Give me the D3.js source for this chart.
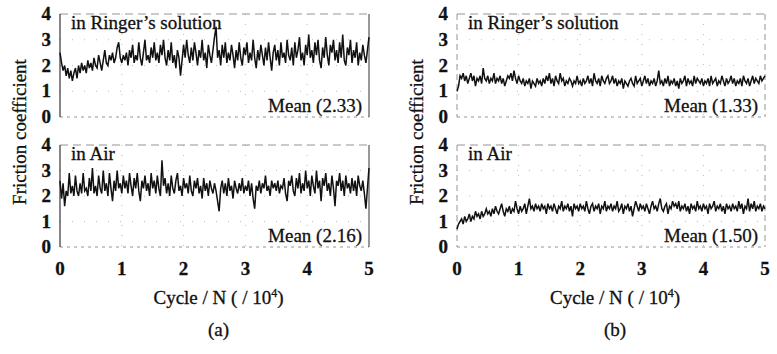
<!DOCTYPE html>
<html>
<head>
<meta charset="utf-8">
<script src="https://cdn.jsdelivr.net/npm/d3@7.9.0/dist/d3.min.js"></script>
<style>
  body { margin: 0; background: #fff; }
</style>
</head>
<body>
<svg id="chart" width="777" height="354"></svg>
<script>
// tick labels
const xTicks = [0, 1, 2, 3, 4, 5];
const yTicks = [0, 1, 2, 3, 4];
const cycleMax = 5;

const ringerA = [
  2.5, 2.1, 1.8, 2.0, 1.6, 1.9, 1.5, 1.8, 1.4, 1.7, 1.9, 1.5, 2.0, 1.7, 2.1, 1.8, 2.0, 1.7, 2.2, 1.9, 2.1,
  1.8, 2.3, 2.0, 1.9, 2.4, 2.1, 1.8, 2.2, 2.6, 2.1, 2.0, 2.4, 2.2, 2.5, 2.1, 2.3, 2.7, 2.9, 2.3, 2.1,
  2.4, 2.2, 2.5, 2.0, 2.6, 2.3, 2.8, 2.1, 2.4, 2.2, 2.9, 2.3, 2.0, 2.5, 3.0, 2.2, 2.4, 2.1, 2.7, 2.3,
  2.9, 2.2, 2.5, 2.1, 2.8, 2.4, 3.0, 2.3, 2.0, 2.6, 2.2, 2.9, 2.1, 2.4, 1.9, 2.6, 2.3, 1.6, 2.2, 2.8,
  2.3, 3.0, 2.4, 2.1, 2.7, 2.2, 2.9, 2.5, 2.0, 2.6, 2.3, 3.0, 2.2, 2.5, 1.9, 2.8, 2.4, 2.1, 2.6, 3.1,
  3.5, 2.3, 2.6, 2.0, 2.8, 2.3, 2.9, 2.1, 2.5, 2.2, 2.8, 2.4, 1.9, 2.6, 2.2, 2.9, 2.3, 2.0, 2.7, 2.4,
  2.9, 2.1, 2.5, 2.2, 3.0, 2.3, 1.9, 2.6, 2.2, 2.8, 2.4, 2.0, 2.7, 2.2, 2.9, 2.3, 1.8, 2.5, 2.8, 2.2,
  2.6, 2.0, 2.9, 2.3, 2.5, 2.1, 3.0, 2.4, 2.2, 2.7, 2.0, 2.9, 2.3, 2.6, 3.1, 2.2, 2.5, 2.0, 2.8, 2.4,
  3.2, 2.3, 2.6, 2.1, 2.9, 2.4, 3.0, 2.2, 1.9, 2.7, 2.3, 3.1, 2.4, 2.0, 2.8, 2.5, 3.0, 2.2, 2.6, 2.1,
  2.9, 2.3, 3.2, 2.2, 2.0, 2.7, 2.4, 3.0, 2.1, 2.6, 2.3, 2.9, 2.0, 2.5, 2.2, 2.8, 2.4, 2.1, 2.6, 3.1
];
const airA = [
  2.6, 1.9, 2.5, 1.6, 2.2, 2.0, 2.9, 2.1, 2.4, 2.0, 2.8, 2.2, 2.0, 2.5, 2.1, 2.9, 2.2, 2.3, 2.0, 2.7, 2.2,
  3.1, 2.1, 2.4, 2.0, 2.8, 2.3, 2.1, 3.0, 2.2, 2.5, 2.0, 2.9, 2.3, 1.8, 2.6, 2.2, 3.0, 2.3, 2.5, 2.1,
  2.8, 2.3, 2.6, 2.1, 2.9, 2.4, 2.0, 2.7, 2.3, 2.9, 2.2, 1.8, 2.6, 2.3, 2.8, 2.2, 2.5, 2.0, 2.9, 2.3,
  2.6, 2.1, 2.8, 2.3, 2.0, 3.4, 2.4, 2.7, 2.1, 2.5, 2.0, 2.8, 2.3, 2.1, 2.6, 2.9, 2.2, 2.4, 2.0, 2.7,
  2.3, 2.5, 2.1, 2.8, 2.2, 2.0, 2.6, 2.3, 2.7, 2.1, 2.4, 1.9, 2.7, 2.2, 2.5, 2.0, 2.6, 2.3, 2.1, 2.5,
  2.2, 1.8, 1.4, 2.3, 2.6, 2.1, 2.5, 2.0, 2.7, 2.2, 2.4, 1.9, 2.6, 2.3, 2.1, 2.5, 2.2, 2.7, 2.1, 2.4,
  2.2, 2.6, 2.0, 2.5, 1.9, 1.5, 2.4, 2.2, 2.6, 2.1, 2.5, 2.3, 2.8, 2.2, 2.4, 2.0, 2.6, 2.3, 2.5, 2.2,
  2.6, 2.1, 2.4, 2.3, 2.7, 2.1, 1.8, 2.6, 2.4, 2.8, 2.2, 2.0, 2.7, 2.3, 2.9, 2.1, 2.5, 2.2, 3.0, 2.3,
  2.6, 2.0, 2.8, 2.4, 2.1, 3.0, 2.3, 2.6, 1.8, 2.7, 2.4, 2.9, 2.2, 2.5, 2.0, 2.8, 2.3, 1.6, 2.6, 2.4,
  2.9, 2.2, 2.6, 2.0, 2.8, 2.3, 2.5, 2.1, 2.7, 2.2, 2.6, 2.0, 2.8, 2.4, 2.2, 2.6, 2.1, 1.5, 2.3, 3.1
];
const ringerB = [
  1.0, 1.2, 1.6, 1.5, 1.7, 1.4, 1.6, 1.3, 1.5, 1.7, 1.4, 1.6, 1.2, 1.5, 1.4, 1.6, 1.3, 1.9, 1.5, 1.4, 1.6,
  1.3, 1.5, 1.4, 1.7, 1.3, 1.5, 1.4, 1.6, 1.3, 1.5, 1.2, 1.4, 1.6, 1.5, 1.7, 1.4, 1.8, 1.5, 1.3, 1.6,
  1.4, 1.3, 1.5, 1.2, 1.4, 1.3, 1.5, 1.1, 1.4, 1.3, 1.2, 1.5, 1.3, 1.4, 1.2, 1.5, 1.3, 1.6, 1.4, 1.7,
  1.3, 1.5, 1.2, 1.6, 1.4, 1.3, 1.7, 1.4, 1.5, 1.2, 1.4, 1.3, 1.5, 1.4, 1.2, 1.4, 1.3, 1.6, 1.3, 1.4,
  1.2, 1.5, 1.3, 1.4, 1.6, 1.3, 1.5, 1.2, 1.7, 1.4, 1.3, 1.5, 1.2, 1.6, 1.4, 1.3, 1.5, 1.6, 1.3, 1.4,
  1.6, 1.3, 1.5, 1.2, 1.4, 1.3, 1.5, 1.1, 1.4, 1.3, 1.2, 1.4, 1.5, 1.3, 1.2, 1.6, 1.3, 1.4, 1.5, 1.2,
  1.4, 1.6, 1.3, 1.5, 1.2, 1.4, 1.3, 1.5, 1.2, 1.4, 1.8, 1.3, 1.4, 1.2, 1.5, 1.3, 1.6, 1.2, 1.4, 1.3,
  1.5, 1.2, 1.4, 1.1, 1.5, 1.3, 1.4, 1.6, 1.2, 1.5, 1.3, 1.4, 1.2, 1.6, 1.3, 1.5, 1.4, 1.3, 1.5, 1.2,
  1.4, 1.3, 1.5, 1.2, 1.6, 1.3, 1.4, 1.5, 1.2, 1.4, 1.3, 1.6, 1.4, 1.2, 1.5, 1.3, 1.4, 1.6, 1.3, 1.5,
  1.2, 1.4, 1.3, 1.5, 1.2, 1.6, 1.4, 1.3, 1.5, 1.2, 1.4, 1.6, 1.3, 1.5, 1.4, 1.3, 1.6, 1.4, 1.5, 1.6
];
const airB = [
  0.7, 0.9, 1.0, 1.1, 0.9, 1.2, 1.0, 1.1, 1.3, 1.0, 1.2, 1.1, 1.4, 1.2, 1.3, 1.1, 1.4, 1.2, 1.3, 1.5, 1.3,
  1.4, 1.2, 1.5, 1.3, 1.6, 1.4, 1.3, 1.5, 1.7, 1.4, 1.2, 1.5, 1.4, 1.6, 1.3, 1.5, 1.4, 1.8, 1.5, 1.3,
  1.6, 1.4, 1.5, 1.7, 1.3, 1.6, 1.9, 1.5, 1.6, 1.4, 1.7, 1.5, 1.6, 1.4, 1.7, 1.5, 1.6, 1.3, 1.7, 1.5,
  1.6, 1.4, 1.7, 1.5, 1.3, 1.6, 1.5, 1.8, 1.4, 1.6, 1.5, 1.7, 1.4, 1.6, 1.2, 1.7, 1.5, 1.6, 1.4, 1.7,
  1.5, 1.6, 1.4, 1.8, 1.5, 1.3, 1.6, 1.7, 1.4, 1.6, 1.5, 1.7, 1.3, 1.6, 1.5, 1.8, 1.4, 1.6, 1.5, 1.7,
  1.4, 1.6, 1.5, 1.8, 1.4, 1.5, 1.7, 1.3, 1.6, 1.5, 1.7, 1.4, 1.6, 1.2, 1.5, 1.8, 1.6, 1.4, 1.7, 1.5,
  1.6, 1.4, 1.7, 1.5, 1.3, 1.6, 1.8, 1.5, 1.6, 1.4, 1.7, 1.9, 1.5, 1.4, 1.6, 1.7, 1.3, 1.6, 1.5, 1.8,
  1.6, 1.7, 1.5, 1.8, 1.4, 1.6, 1.5, 1.7, 1.4, 1.6, 1.3, 1.7, 1.5, 1.6, 1.4, 1.8, 1.5, 1.6, 1.4, 1.7,
  1.5, 1.6, 1.3, 1.7, 1.5, 1.6, 1.8, 1.4, 1.6, 1.5, 1.7, 1.4, 1.6, 1.3, 1.7, 1.5, 1.6, 1.4, 1.7, 1.5,
  1.6, 1.4, 1.8, 1.5, 1.7, 1.3, 1.6, 1.5, 1.9, 1.4, 1.7, 1.5, 1.8, 1.4, 1.6, 1.5, 1.7, 1.4, 1.6, 1.5
];

const envLabels = ['in Ringer\u2019s solution', 'in Air'];
const meanLabels = [['Mean (2.33)', 'Mean (2.16)'], ['Mean (1.33)', 'Mean (1.50)']];
const figLabels = ['(a)', '(b)'];
const series = [[ringerA, airA], [ringerB, airB]];

const svg = d3.select('#chart');
const ink = '#111';
const serif = '"Times New Roman", Times, "Liberation Serif", "DejaVu Serif", serif';

// scanned print looks heavy, so give text a thin outline
function label(sel) {
  return sel.style('font-family', serif)
    .attr('fill', ink)
    .attr('stroke', ink)
    .attr('stroke-width', 0.3);
}

// column / row geometry
const cols = [{ left: 60, right: 369 }, { left: 457, right: 765 }];
const rows = [{ top: 14, bottom: 117 }, { top: 145, bottom: 247 }];

cols.forEach((col, ci) => {
  let x = d3.scaleLinear().domain([0, cycleMax]).range([col.left, col.right]);

  rows.forEach((row, ri) => {
    let y = d3.scaleLinear().domain([0, 4]).range([row.bottom, row.top]);
    let g = svg.append('g');

    // sparse dotted grid like the scan
    g.selectAll('line.vgrid')
      .data(xTicks.slice(1, -1))
      .enter().append('line')
      .attr('x1', d => x(d)).attr('x2', d => x(d))
      .attr('y1', y(4)).attr('y2', y(0))
      .attr('stroke', '#aaa').attr('stroke-width', 0.8)
      .attr('stroke-dasharray', '1,9');
    g.selectAll('line.hgrid')
      .data(yTicks.slice(1, -1))
      .enter().append('line')
      .attr('x1', x(0)).attr('x2', x(cycleMax))
      .attr('y1', d => y(d)).attr('y2', d => y(d))
      .attr('stroke', '#aaa').attr('stroke-width', 0.8)
      .attr('stroke-dasharray', '1,11');

    // frame: top and bottom dashed
    [4, 0].forEach(v => {
      g.append('line')
        .attr('x1', x(0)).attr('x2', x(cycleMax))
        .attr('y1', y(v)).attr('y2', y(v))
        .attr('stroke', '#888').attr('stroke-width', 0.9)
        .attr('stroke-dasharray', v === 0 ? '3,4' : '8,5');
    });
    // left / right edges
    g.append('line')
      .attr('x1', x(0)).attr('x2', x(0))
      .attr('y1', y(4)).attr('y2', y(0))
      .attr('stroke', ci === 0 ? '#222' : '#888')
      .attr('stroke-width', ci === 0 ? 1.1 : 0.9)
      .attr('stroke-dasharray', ci === 0 ? null : '6,4');
    g.append('line')
      .attr('x1', x(cycleMax)).attr('x2', x(cycleMax))
      .attr('y1', y(4)).attr('y2', y(0))
      .attr('stroke', ci === 0 ? '#333' : '#888')
      .attr('stroke-width', ci === 0 ? 1 : 0.9)
      .attr('stroke-dasharray', ci === 0 ? null : '6,4');

    // trace
    let vals = series[ci][ri];
    let step = cycleMax / (vals.length - 1);
    let line = d3.line()
      .x((d, i) => x(i * step))
      .y(d => y(d));
    g.append('path')
      .datum(vals)
      .attr('d', line)
      .attr('fill', 'none')
      .attr('stroke', ink)
      .attr('stroke-width', 1.5)
      .attr('stroke-linejoin', 'miter');

    // y tick labels
    g.selectAll('text.ytick')
      .data(yTicks)
      .enter().append('text')
      .attr('x', x(0) - 9)
      .attr('y', d => y(d) + 6)
      .attr('text-anchor', 'end')
      .attr('font-size', 19)
      .attr('font-weight', 'bold')
      .call(label)
      .text(d => d);

    // environment + mean labels
    g.append('text')
      .attr('x', x(0) + 11)
      .attr('y', y(4) + 15)
      .attr('font-size', 19)
      .call(label)
      .text(envLabels[ri]);
    g.append('text')
      .attr('x', x(cycleMax) - 7)
      .attr('y', y(0) - 5)
      .attr('text-anchor', 'end')
      .attr('font-size', 19)
      .call(label)
      .text(meanLabels[ci][ri]);
  });

  // x tick labels under the lower panel
  svg.selectAll(null)
    .data(xTicks)
    .enter().append('text')
    .attr('x', d => x(d))
    .attr('y', 275)
    .attr('text-anchor', 'middle')
    .attr('font-size', 19)
    .attr('font-weight', 'bold')
    .call(label)
    .text(d => d);

  let mid = (col.left + col.right) / 2;
  let xt = svg.append('text')
    .attr('x', mid + 4)
    .attr('y', 304)
    .attr('text-anchor', 'middle')
    .attr('font-size', 19)
    .call(label);
  xt.append('tspan').text('Cycle / N ( / 10');
  xt.append('tspan').attr('dy', -7).attr('font-size', 12).text('4');
  xt.append('tspan').attr('dy', 7).text(')');

  svg.append('text')
    .attr('x', mid + 4)
    .attr('y', 336)
    .attr('text-anchor', 'middle')
    .attr('font-size', 19)
    .call(label)
    .text(figLabels[ci]);

  // shared y title
  svg.append('text')
    .attr('transform', `translate(${col.left - 34},132) rotate(-90)`)
    .attr('text-anchor', 'middle')
    .attr('font-size', 19)
    .call(label)
    .text('Friction coefficient');
});
</script>
</body>
</html>
